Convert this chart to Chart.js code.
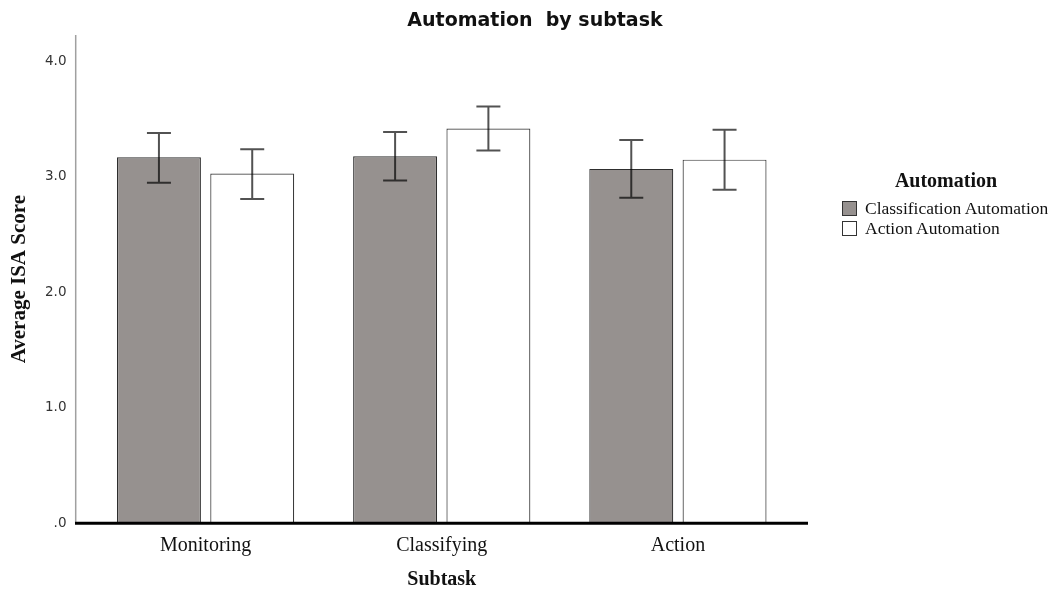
<!DOCTYPE html>
<html>
<head>
<meta charset="utf-8">
<title>Automation by subtask</title>
<script src="https://cdn.jsdelivr.net/npm/chart.js@4/dist/chart.umd.min.js"></script>
<style>
  body { margin: 0; background: #fff; }
  #wrap { position: relative; width: 1052px; height: 593px; }
  #legend { position: absolute; left: 842px; top: 169px; font-family: "Liberation Serif", "Times New Roman", serif; color: #111; }
  #legend .ttl { font-weight: bold; font-size: 20px; text-align: center; width: 208px; margin-bottom: 6px; }
  #legend .item { display: flex; align-items: center; height: 20.5px; font-size: 17.5px; }
  #legend .box { width: 15px; height: 15px; box-sizing: border-box; border: 1px solid #333; margin-right: 8px; }
</style>
</head>
<body>
<div id="wrap">
  <canvas id="myChart"></canvas>
  <div id="legend"></div>
</div>
<script>
// data
const subtasks = ["Monitoring", "Classifying", "Action"];
const classMeans = [3.17, 3.18, 3.07];
const classLow = [2.95, 2.97, 2.82];
const classHigh = [3.38, 3.39, 3.32];
const actionMeans = [3.03, 3.42, 3.15];
const actionLow = [2.81, 3.23, 2.89];
const actionHigh = [3.24, 3.61, 3.41];
const yTicks = [0, 1, 2, 3, 4];
const yTickLabels = [".0", "1.0", "2.0", "3.0", "4.0"];

const serif = "'Liberation Serif', 'Times New Roman', serif";
const sans = "'DejaVu Sans', sans-serif";

// error bars drawn on top of the bars
const errorBars = {
  id: "errorBars",
  afterDatasetsDraw(chart) {
    const ctx = chart.ctx;
    const y = chart.scales.y;
    chart.data.datasets.forEach((ds, di) => {
      const meta = chart.getDatasetMeta(di);
      meta.data.forEach((bar, i) => {
        const top = y.getPixelForValue(ds.errHigh[i]);
        const bot = y.getPixelForValue(ds.errLow[i]);
        ctx.save();
        ctx.strokeStyle = "rgba(0,0,0,0.68)";
        ctx.lineWidth = 2;
        ctx.beginPath();
        ctx.moveTo(bar.x, top); ctx.lineTo(bar.x, bot);
        ctx.moveTo(bar.x - 12, top); ctx.lineTo(bar.x + 12, top);
        ctx.moveTo(bar.x - 12, bot); ctx.lineTo(bar.x + 12, bot);
        ctx.stroke();
        ctx.restore();
      });
    });
  }
};

// axis lines sit a little outside the category band
const axisLines = {
  id: "axisLines",
  afterDatasetsDraw(chart) {
    const { ctx, chartArea: a } = chart;
    ctx.save();
    ctx.strokeStyle = "#a0a0a0";
    ctx.lineWidth = 1.5;
    ctx.beginPath();
    ctx.moveTo(a.left - 11.8, a.top);
    ctx.lineTo(a.left - 11.8, a.bottom);
    ctx.stroke();
    ctx.strokeStyle = "#000";
    ctx.lineWidth = 3;
    ctx.beginPath();
    ctx.moveTo(a.left - 12.5, a.bottom);
    ctx.lineTo(a.right + 12, a.bottom);
    ctx.stroke();
    ctx.restore();
  }
};

const ctx = document.getElementById("myChart").getContext("2d");
const myChart = new Chart(ctx, {
  type: "bar",
  data: {
    labels: subtasks,
    datasets: [
      {
        label: "Classification Automation",
        data: classMeans,
        errLow: classLow,
        errHigh: classHigh,
        yAxisID: "y",
        backgroundColor: "rgb(150,145,143)",
        borderColor: "#2e2e2e",
        borderWidth: 1.2,
        borderSkipped: false
      },
      {
        label: "Action Automation",
        data: actionMeans,
        errLow: actionLow,
        errHigh: actionHigh,
        yAxisID: "y",
        backgroundColor: "#ffffff",
        borderColor: "#3c3c3c",
        borderWidth: 1.2,
        borderSkipped: false
      }
    ]
  },
  options: {
    responsive: true,
    maintainAspectRatio: false,
    animation: false,
    categoryPercentage: 0.79,
    barPercentage: 0.9,
    layout: { padding: { left: 18, right: 0, top: 0, bottom: 0 } },
    plugins: {
      legend: { display: false },
      tooltip: { enabled: false },
      title: {
        display: true,
        text: "Automation  by subtask",
        color: "#111",
        font: { family: sans, size: 19, weight: "bold", lineHeight: 1.2 },
        padding: { top: 10, bottom: 2.2 }
      }
    },
    scales: {
      x: {
        grid: { display: false, drawTicks: false },
        border: { display: false },
        ticks: { color: "#111", font: { family: serif, size: 20 }, padding: 10 },
        title: {
          display: true,
          text: "Subtask",
          color: "#111",
          font: { family: serif, size: 20, weight: "bold", lineHeight: 1.2 },
          padding: { top: 0, bottom: 1 }
        },
        afterFit(scale) { scale.height = 69.7; }
      },
      y: {
        min: 0,
        max: 4.23,
        grid: { display: false, drawTicks: false },
        border: { display: false },
        afterBuildTicks(scale) { scale.ticks = yTicks.map(v => ({ value: v })); },
        ticks: {
          color: "#333",
          font: { family: sans, size: 13.5 },
          padding: 21,
          callback: (v) => yTickLabels[yTicks.indexOf(v)]
        },
        title: {
          display: true,
          text: "Average ISA Score",
          color: "#111",
          font: { family: serif, size: 21, weight: "bold", lineHeight: 1.2 },
          padding: { top: -10.6, bottom: 0 }
        },
        afterFit(scale) { scale.width = 69.5; }
      },
      // empty right-hand axis that reserves room for the legend
      yRight: {
        position: "right",
        min: 0,
        max: 4.23,
        grid: { display: false, drawTicks: false },
        border: { display: false },
        ticks: { display: false },
        afterFit(scale) { scale.width = 256; }
      }
    }
  },
  plugins: [errorBars, axisLines]
});

// HTML legend built from the datasets
const legendEl = document.getElementById("legend");
legendEl.insertAdjacentHTML("beforeend", `<div class="ttl">Automation</div>`);
myChart.data.datasets.forEach(ds => {
  legendEl.insertAdjacentHTML("beforeend",
    `<div class="item"><span class="box" style="background:${ds.backgroundColor}"></span>${ds.label}</div>`);
});
</script>
</body>
</html>
